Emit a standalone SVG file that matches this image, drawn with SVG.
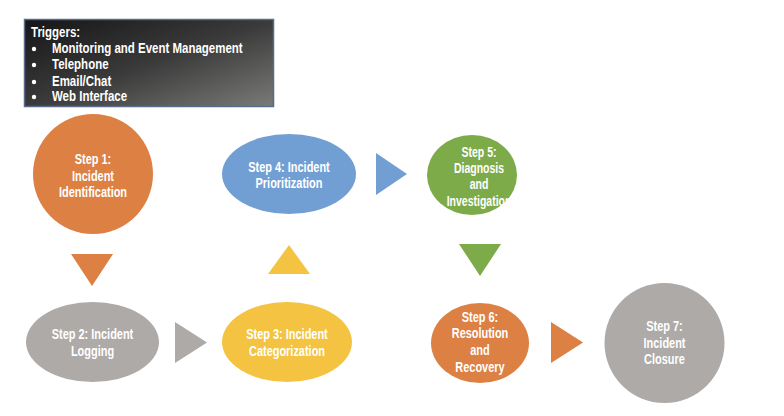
<svg xmlns="http://www.w3.org/2000/svg" width="784" height="416" viewBox="0 0 784 416">
<defs>
<linearGradient id="trig" x1="0" y1="0" x2="1" y2="1">
<stop offset="0" stop-color="#161616"/>
<stop offset="0.5" stop-color="#3a3a3a"/>
<stop offset="1" stop-color="#7a7a78"/>
</linearGradient>
<style>
.t{font-family:"Liberation Sans",Arial,sans-serif;font-weight:bold;fill:#fff;text-anchor:middle;font-size:15px}
.tr{font-family:"Liberation Sans",Arial,sans-serif;font-weight:bold;fill:#fff;font-size:14px}
</style>
</defs>
<rect width="784" height="416" fill="#fff"/>
<g id="triggers">
<rect x="24.5" y="19.5" width="249" height="87" fill="url(#trig)" stroke="#5a6a8a" stroke-width="1.5"/>
<g transform="translate(31 0) scale(0.82 1)">
<text class="tr" x="0" y="37">Triggers:</text>
</g>
<circle cx="34" cy="49" r="2.2" fill="#fff"/>
<circle cx="34" cy="65" r="2.2" fill="#fff"/>
<circle cx="34" cy="82" r="2.2" fill="#fff"/>
<circle cx="34" cy="97" r="2.2" fill="#fff"/>
<g transform="translate(52 0) scale(0.82 1)">
<text class="tr" x="0" y="53">Monitoring and Event Management</text>
<text class="tr" x="0" y="69">Telephone</text>
<text class="tr" x="0" y="86">Email/Chat</text>
<text class="tr" x="0" y="101">Web Interface</text>
</g>
</g>
<g id="step1">
<circle cx="93" cy="174" r="60" fill="#DD8043"/>
<g transform="translate(93 0) scale(0.73 1)">
<text class="t" x="0" y="164">Step 1:</text>
<text class="t" x="0" y="181">Incident</text>
<text class="t" x="0" y="197">Identification</text>
</g>
</g>
<g id="step2">
<ellipse cx="92.5" cy="342" rx="66.5" ry="40" fill="#AEAAA8"/>
<g transform="translate(92.5 0) scale(0.73 1)">
<text class="t" x="0" y="339">Step 2: Incident</text>
<text class="t" x="0" y="356">Logging</text>
</g>
</g>
<g id="step3">
<ellipse cx="287" cy="342" rx="65" ry="40" fill="#F4C342"/>
<g transform="translate(287 0) scale(0.73 1)">
<text class="t" x="0" y="339">Step 3: Incident</text>
<text class="t" x="0" y="356">Categorization</text>
</g>
</g>
<g id="step4">
<ellipse cx="289" cy="174" rx="67" ry="40" fill="#729FD3"/>
<g transform="translate(289 0) scale(0.73 1)">
<text class="t" x="0" y="172">Step 4: Incident</text>
<text class="t" x="0" y="188">Prioritization</text>
</g>
</g>
<g id="step5">
<ellipse cx="472" cy="175" rx="45" ry="40" fill="#7EAB4A"/>
<g transform="translate(479 0) scale(0.7 1)">
<text class="t" x="0" y="157">Step 5:</text>
<text class="t" x="0" y="173">Diagnosis</text>
<text class="t" x="0" y="189">and</text>
<text class="t" x="0" y="206">Investigation</text>
</g>
</g>
<g id="step6">
<ellipse cx="480" cy="343" rx="49" ry="40" fill="#DD8043"/>
<g transform="translate(480 0) scale(0.73 1)">
<text class="t" x="0" y="322">Step 6:</text>
<text class="t" x="0" y="338.5">Resolution</text>
<text class="t" x="0" y="355.5">and</text>
<text class="t" x="0" y="372.5">Recovery</text>
</g>
</g>
<g id="step7">
<circle cx="664.5" cy="343" r="60" fill="#AEAAA8"/>
<g transform="translate(664.5 0) scale(0.73 1)">
<text class="t" x="0" y="331">Step 7:</text>
<text class="t" x="0" y="348">Incident</text>
<text class="t" x="0" y="364">Closure</text>
</g>
</g>
<g id="connectors">
<polygon points="71,254 113,254 92,286" fill="#DD8043"/>
<polygon points="175,322 207,342.5 175,363" fill="#AEAAA8"/>
<polygon points="268,274 310,274 289,245" fill="#F4C342"/>
<polygon points="376,153 407,174 376,195" fill="#729FD3"/>
<polygon points="459,244 501,244 480,276" fill="#7EAB4A"/>
<polygon points="551,322 583,342.5 551,363" fill="#DD8043"/>
</g>
</svg>
